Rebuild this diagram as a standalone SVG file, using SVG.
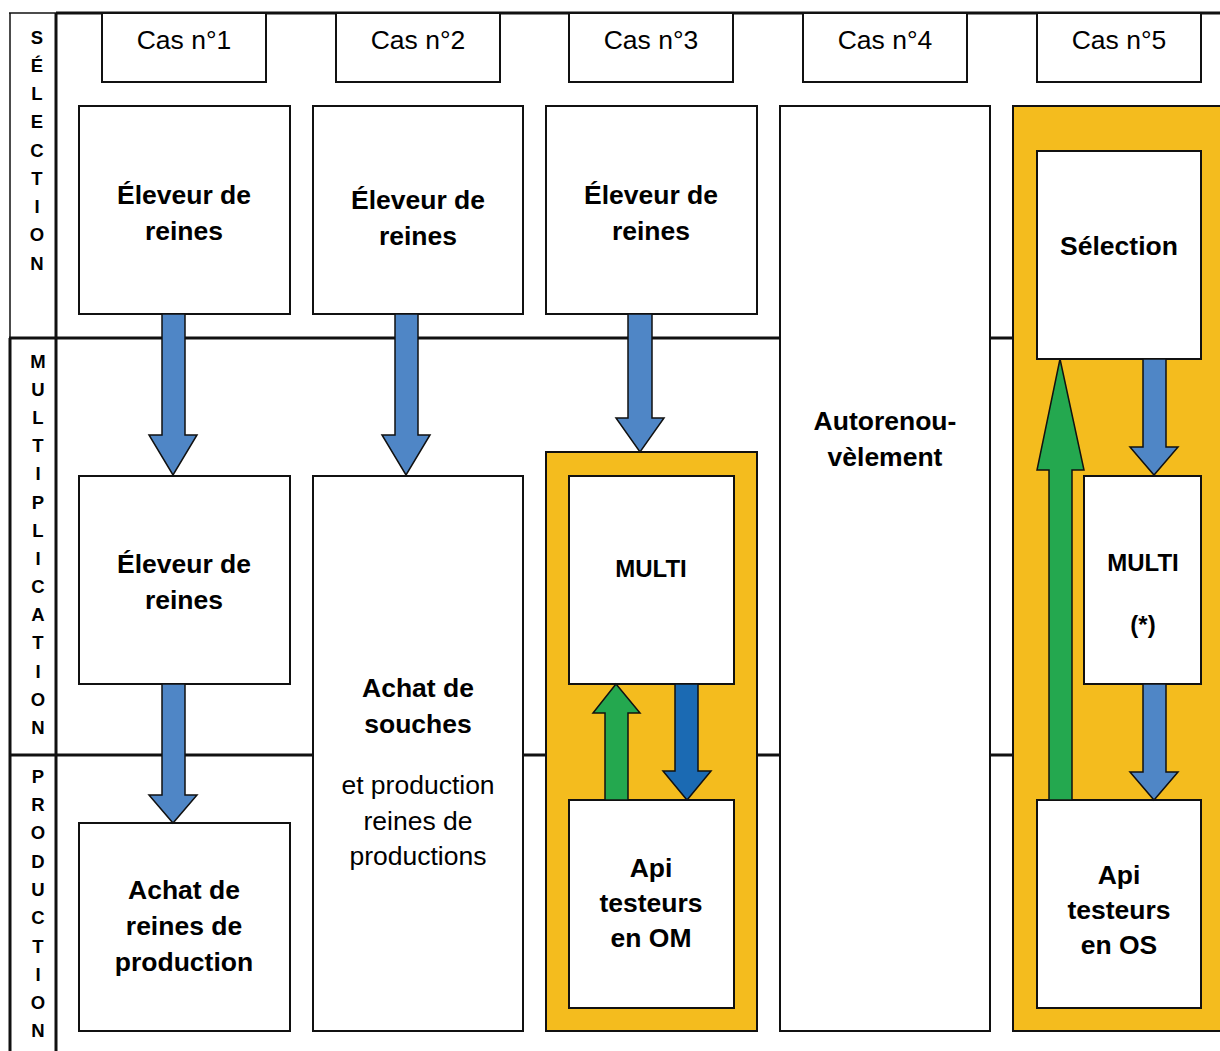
<svg xmlns="http://www.w3.org/2000/svg" width="1220" height="1051" viewBox="0 0 1220 1051">
<style>
.box{fill:#fff;stroke:#111;stroke-width:2}
.cas{fill:#fff;stroke:#111;stroke-width:2}
.yel{fill:#F4BC1E;stroke:#111;stroke-width:2}
.div{stroke:#111;stroke-width:3;fill:none}
.thin{stroke:#111;stroke-width:1.5;fill:none}
.blue{fill:#4F86C6;stroke:#111;stroke-width:1.5;stroke-linejoin:miter}
.dblue{fill:#1B6AB3;stroke:#111;stroke-width:1.5}
.green{fill:#24A84F;stroke:#111;stroke-width:1.5}
.t{font-family:"Liberation Sans",Arial,sans-serif;font-size:26.5px;fill:#000;text-anchor:middle}
.b{font-weight:bold;font-size:26.5px}
.m{font-weight:bold;font-size:24px}
.v{font-family:"Liberation Sans",Arial,sans-serif;font-weight:bold;font-size:18.5px;fill:#000;text-anchor:middle}
</style>
<rect width="1220" height="1051" fill="#fff"/>
<g id="frame">
<line class="div" x1="56" y1="13" x2="1220" y2="13"/>
<line class="thin" x1="9" y1="13" x2="56" y2="13"/>
<line class="thin" x1="10" y1="13" x2="10" y2="338"/>
<line class="div" x1="10" y1="338" x2="10" y2="1051"/>
<line class="div" x1="56" y1="13" x2="56" y2="1051"/>
<line class="div" x1="9" y1="338" x2="1220" y2="338"/>
<line class="div" x1="9" y1="755" x2="1220" y2="755"/>
</g>
<g id="labels-left">
<text class="v" x="37" y="44">S</text>
<text class="v" x="37" y="72">É</text>
<text class="v" x="37" y="100">L</text>
<text class="v" x="37" y="128">E</text>
<text class="v" x="37" y="157">C</text>
<text class="v" x="37" y="185">T</text>
<text class="v" x="37" y="213">I</text>
<text class="v" x="37" y="241">O</text>
<text class="v" x="37" y="270">N</text>
<text class="v" x="38" y="368">M</text>
<text class="v" x="38" y="396">U</text>
<text class="v" x="38" y="424">L</text>
<text class="v" x="38" y="452">T</text>
<text class="v" x="38" y="480">I</text>
<text class="v" x="38" y="509">P</text>
<text class="v" x="38" y="537">L</text>
<text class="v" x="38" y="565">I</text>
<text class="v" x="38" y="593">C</text>
<text class="v" x="38" y="621">A</text>
<text class="v" x="38" y="649">T</text>
<text class="v" x="38" y="678">I</text>
<text class="v" x="38" y="706">O</text>
<text class="v" x="38" y="734">N</text>
<text class="v" x="38" y="783">P</text>
<text class="v" x="38" y="811">R</text>
<text class="v" x="38" y="839">O</text>
<text class="v" x="38" y="868">D</text>
<text class="v" x="38" y="896">U</text>
<text class="v" x="38" y="924">C</text>
<text class="v" x="38" y="953">T</text>
<text class="v" x="38" y="981">I</text>
<text class="v" x="38" y="1009">O</text>
<text class="v" x="38" y="1037">N</text>
</g>
<g id="cas1"><rect class="cas" x="102" y="13" width="164" height="69"/><text class="t" x="184" y="49">Cas n°1</text></g>
<g id="cas2"><rect class="cas" x="336" y="13" width="164" height="69"/><text class="t" x="418" y="49">Cas n°2</text></g>
<g id="cas3"><rect class="cas" x="569" y="13" width="164" height="69"/><text class="t" x="651" y="49">Cas n°3</text></g>
<g id="cas4"><rect class="cas" x="803" y="13" width="164" height="69"/><text class="t" x="885" y="49">Cas n°4</text></g>
<g id="cas5"><rect class="cas" x="1037" y="13" width="164" height="69"/><text class="t" x="1119" y="49">Cas n°5</text></g>

<g id="c1-eleveur"><rect class="box" x="79" y="106" width="211" height="208"/><text class="t b" x="184" y="204">Éleveur de</text><text class="t b" x="184" y="240">reines</text></g>
<g id="c2-eleveur"><rect class="box" x="313" y="106" width="210" height="208"/><text class="t b" x="418" y="209">Éleveur de</text><text class="t b" x="418" y="245">reines</text></g>
<g id="c3-eleveur"><rect class="box" x="546" y="106" width="211" height="208"/><text class="t b" x="651" y="204">Éleveur de</text><text class="t b" x="651" y="240">reines</text></g>
<g id="c4-autorenouvelement"><rect class="box" x="780" y="106" width="210" height="925"/><text class="t b" x="885" y="430">Autorenou-</text><text class="t b" x="885" y="466">vèlement</text></g>
<g id="c5-cadre"><rect class="yel" x="1013" y="106" width="215" height="925"/></g>
<g id="c1-eleveur-multi"><rect class="box" x="79" y="476" width="211" height="208"/><text class="t b" x="184" y="573">Éleveur de</text><text class="t b" x="184" y="609">reines</text></g>
<g id="c1-achat"><rect class="box" x="79" y="823" width="211" height="208"/><text class="t b" x="184" y="899">Achat de</text><text class="t b" x="184" y="935">reines de</text><text class="t b" x="184" y="971">production</text></g>
<g id="c2-achat"><rect class="box" x="313" y="476" width="210" height="555"/><text class="t b" x="418" y="697">Achat de</text><text class="t b" x="418" y="733">souches</text><text class="t" x="418" y="794">et production</text><text class="t" x="418" y="830">reines de</text><text class="t" x="418" y="865">productions</text></g>
<g id="c3-cadre"><rect class="yel" x="546" y="452" width="211" height="579"/></g>
<g id="c3-multi"><rect class="box" x="569" y="476" width="165" height="208"/><text class="t m" x="651" y="577">MULTI</text></g>
<g id="c3-api"><rect class="box" x="569" y="800" width="165" height="208"/><text class="t b" x="651" y="877">Api</text><text class="t b" x="651" y="912">testeurs</text><text class="t b" x="651" y="947">en OM</text></g>
<g id="c5-selection"><rect class="box" x="1037" y="151" width="164" height="208"/><text class="t b" x="1119" y="255">Sélection</text></g>
<g id="c5-multi"><rect class="box" x="1084" y="476" width="117" height="208"/><text class="t m" x="1143" y="571">MULTI</text><text class="t m" x="1143" y="633">(*)</text></g>
<g id="c5-api"><rect class="box" x="1037" y="800" width="164" height="208"/><text class="t b" x="1119" y="884">Api</text><text class="t b" x="1119" y="919">testeurs</text><text class="t b" x="1119" y="954">en OS</text></g>

<g id="connectors">
<polygon class="blue" points="162,314 185,314 185,435 197,435 173,475 149,435 162,435"/>
<polygon class="blue" points="162,684 185,684 185,795 197,795 173,823 149,795 162,795"/>
<polygon class="blue" points="395,314 418,314 418,435 430,435 406,475 382,435 395,435"/>
<polygon class="blue" points="628,314 652,314 652,418 664,418 640,452 616,418 628,418"/>
<polygon class="green" points="605,800 628,800 628,713 640,713 616,684 593,713 605,713"/>
<polygon class="dblue" points="675,684 698,684 698,771 711,771 687,800 663,771 675,771"/>
<polygon class="blue" points="1143,359 1166,359 1166,447 1178,447 1154,475 1130,447 1143,447"/>
<polygon class="blue" points="1143,684 1166,684 1166,772 1178,772 1154,800 1130,772 1143,772"/>
<polygon class="green" points="1049,800 1072,800 1072,470 1084,470 1060,359 1037,470 1049,470"/>
</g>
</svg>
